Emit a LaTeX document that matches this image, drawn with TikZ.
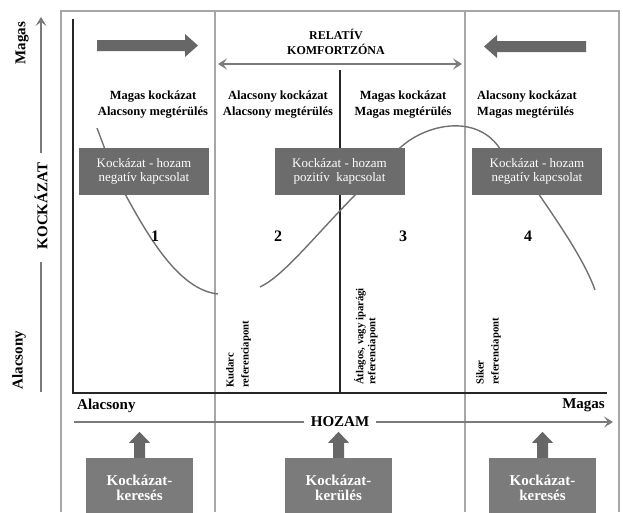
\documentclass[tikz,border=0pt]{standalone}
\usepackage{fontspec}
\setmainfont{Liberation Serif}
\usetikzlibrary{arrows.meta,calc}
\definecolor{framegray}{HTML}{A6A6A6}
\definecolor{boxgray}{HTML}{6C6C6C}
\definecolor{boxgrayb}{HTML}{7B7B7C}
\definecolor{linegray}{HTML}{7A7A7A}
\definecolor{curvegray}{HTML}{707070}
\definecolor{arrowgray}{HTML}{676767}
\begin{document}
\begin{tikzpicture}[x=1pt,y=-1pt,
  frameline/.style={draw=framegray,line width=1.8pt},
  axisline/.style={draw=black!85,line width=1.4pt},
  gline/.style={draw=linegray,line width=1.8pt},
  tipA/.style={-{Stealth[length=9pt,width=11pt,inset=4pt]}},
  curveline/.style={draw=curvegray,line width=1.4pt},
  quad/.style={font=\fontsize{12.5}{16}\selectfont\bfseries,align=center,inner sep=0pt},
  rbox/.style={fill=boxgray,text=white,minimum width=130pt,minimum height=47pt,
    font=\fontsize{13}{14.5}\selectfont,align=center,inner sep=0pt},
  kbox/.style={fill=boxgrayb,text=white,minimum width=107pt,minimum height=60pt,
    font=\fontsize{15}{14.5}\selectfont\bfseries,align=center,inner sep=0pt},
  refl/.style={rotate=90,anchor=north west,align=left,inner sep=0pt,
    font=\fontsize{10.7}{14}\selectfont\bfseries},
  num/.style={font=\fontsize{16}{16}\selectfont\bfseries,inner sep=0pt},
  axl/.style={font=\fontsize{15}{15}\selectfont\bfseries,inner sep=0pt},
  blockarrow/.style={fill=arrowgray}
]
\useasboundingbox (0,0) rectangle (623,512);

% frame and column separators
\draw[frameline] (61,512) -- (61,11) -- (619,11) -- (619,512);
\draw[frameline] (215,11) -- (215,512);
\draw[frameline] (465,11) -- (465,512);

% black axes
\draw[axisline] (73,19) -- (73,393) -- (607,393);
\draw[axisline] (340,70) -- (340,393);

% curve
\draw[curveline] (97,128) -- (106,152);
\draw[curveline] (124,192) .. controls (150,240) and (180,290) .. (218,294);
\draw[curveline] (260,287) .. controls (285,275) and (315,235) .. (362,188);
\draw[curveline] (396,152) .. controls (420,125) and (478,110) .. (502,152);
\draw[curveline] (538,193) .. controls (562,228) and (585,262) .. (595,290);

% top block arrows
\fill[blockarrow] (97,40) -- (185,40) -- (185,34) -- (198,45.5) -- (185,57) -- (185,51) -- (97,51) -- cycle;
\fill[blockarrow] (586,41) -- (497,41) -- (497,35) -- (484,46.5) -- (497,58) -- (497,52) -- (586,52) -- cycle;

% relative comfort zone
\node[font=\fontsize{12}{15}\selectfont\bfseries,align=center,inner sep=0pt] (rk) at (336,42) {RELATÍV\\KOMFORTZÓNA};
\coordinate (czl) at (218,64);
\coordinate (czr) at (462,64);
\draw[gline,{Stealth[length=9pt,width=11pt,inset=4pt]}-{Stealth[length=9pt,width=11pt,inset=4pt]}] (czl) -- (czr);

% quadrant texts
\node[quad] (q1) at (153,105) {Magas kockázat\\Alacsony megtérülés};
\node[quad] (q2) at (278,105) {Alacsony kockázat\\Alacsony megtérülés};
\node[quad] (q3) at (403,105) {Magas kockázat\\Magas megtérülés};
\node[quad,align=left,anchor=west] (q4) at (477,105) {Alacsony kockázat\\Magas megtérülés};

% relationship boxes
\node[rbox] (b1) at (144,171.5) {Kockázat - hozam\\negatív kapcsolat};
\node[rbox] (b2) at (339.5,171.5) {Kockázat - hozam\\pozitív\ \ kapcsolat};
\node[rbox] (b3) at (537,171.5) {Kockázat - hozam\\negatív kapcsolat};

% numbers
\node[num] (n1) at (155,236) {1};
\node[num] (n2) at (278,236) {2};
\node[num] (n3) at (403,236) {3};
\node[num] (n4) at (528,236) {4};

% reference points
\node[refl,font=\fontsize{10.7}{15}\selectfont\bfseries] (r1) at (226,388) {Kudarc\\referenciapont};
\node[refl,font=\fontsize{10.7}{12}\selectfont\bfseries] (r2) at (354,385) {Átlagos, vagy iparági\\referenciapont};
\node[refl,font=\fontsize{10.7}{15}\selectfont\bfseries] (r3) at (476,385) {Siker\\referenciapont};

% left axis (KOCKÁZAT)
\node[axl,rotate=90] (kock) at (41,206) {KOCKÁZAT};
\node[axl,rotate=90] (lmag) at (22,43) {Magas};
\node[axl,rotate=90] (lala) at (19,360) {Alacsony};
\coordinate (ktop) at (41,17);
\coordinate (kbot) at (41,392);
\draw[gline,-{Stealth[length=9pt,width=11pt,inset=4pt]}] (41,153) -- (ktop);
\draw[gline] (41,262) -- (kbot);

% bottom axis (HOZAM)
\node[axl,anchor=west] (bala) at (77,406) {Alacsony};
\node[axl,anchor=east] (bmag) at (605,405) {Magas};
\coordinate (hl) at (74,422);
\coordinate (hr) at (613,422);
\draw[gline,tipA] (hl) -- (hr);
\node[axl,fill=white,inner xsep=7pt,inner ysep=2pt] (hozam) at (340,422) {HOZAM};

% bottom boxes
\node[kbox] (k1) at (139.5,488) {Kockázat-\\keresés};
\node[kbox] (k2) at (338.5,488) {Kockázat-\\kerülés};
\node[kbox] (k3) at (542.5,488) {Kockázat-\\keresés};

% up block arrows
\foreach \b in {k1,k2,k3}{
  \fill[blockarrow] ([xshift=-5.5pt]\b.north) -- ++(0,-15) -- ++(-5,0) -- ++(10.5,-11) -- ++(10.5,11) -- ++(-5,0) -- ++(0,15) -- cycle;
}
\end{tikzpicture}
\end{document}
